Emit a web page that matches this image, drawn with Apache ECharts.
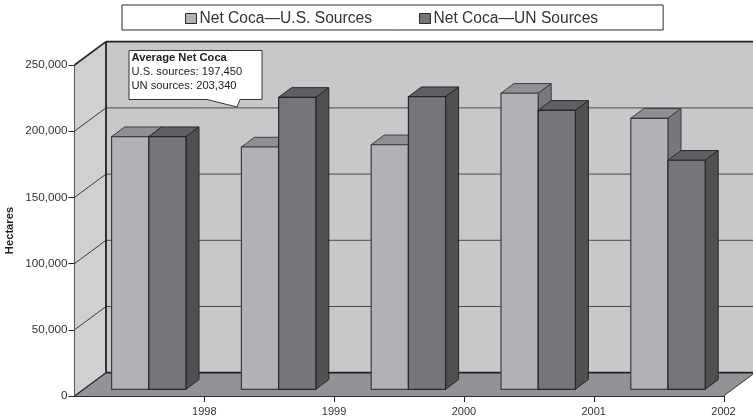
<!DOCTYPE html>
<html><head><meta charset="utf-8">
<style>html,body{margin:0;padding:0;background:#fff}#c{width:753px;height:419px}</style>
<script src="https://cdn.jsdelivr.net/npm/echarts@6/dist/echarts.min.js"></script>
</head><body><div id="c"></div>
<script>
const categories = [1998, 1999, 2000, 2001, 2002];
const usValues = [190800, 183000, 184700, 223600, 204700];
const unValues = [190800, 220500, 221000, 210700, 173000];
const yTicks = [0, 50000, 100000, 150000, 200000, 250000];
const seriesNames = ['Net Coca\u2014U.S. Sources', 'Net Coca\u2014UN Sources'];
const calloutLines = ['Average Net Coca', 'U.S. sources: 197,450', 'UN sources: 203,340'];

const FONT = '"Liberation Sans", Arial, sans-serif';
const WALL_DX = 31.5, WALL_DY = 23.3;
const BAR_DX0 = 9.4, BAR_DY0 = 6.7, BAR_DX = 13, BAR_DY = 9.7;
const BAR_W = 0.2866;
const TICK_LEN = 6;

const poly = (points, fill, stroke, lw) => ({
  type: 'polygon', shape: { points },
  style: { fill, stroke: stroke || null, lineWidth: lw || 0, lineJoin: 'round' }
});
const line = (a, b, stroke, lw) => ({
  type: 'line', shape: { x1: a[0], y1: a[1], x2: b[0], y2: b[1] },
  style: { stroke, lineWidth: lw }
});

function renderWalls(params, api) {
  const x0 = api.coord([1997, 0])[0], x1 = api.coord([2002, 0])[0];
  const y0 = api.coord([1997, 0])[1], yT = api.coord([1997, 250000])[1];
  const b = (x, y) => [x + WALL_DX, y - WALL_DY];
  const children = [
    poly([[x0, y0], [x0, yT], b(x0, yT), b(x0, y0)], '#cfd0d2'),
    poly([b(x0, y0), b(x0, yT), b(x1, yT), b(x1, y0)], '#c7c8ca'),
    poly([[x0, y0], [x1, y0], b(x1, y0), b(x0, y0)], '#929396')
  ];
  yTicks.forEach(t => {
    const y = api.coord([1997, t])[1];
    if (t === 0 || t === 250000) return;
    children.push(line([x0, y], b(x0, y), '#3a3a3a', 1));
    children.push(line(b(x0, y), b(x1, y), '#4a4a4c', 1));
  });
  children.push(line([x0, yT], b(x0, yT), '#222', 1.6));
  children.push(line(b(x0, yT), b(x1, yT), '#222', 1.8));
  children.push(line(b(x0, yT), b(x0, y0), '#222', 1.8));
  children.push(line(b(x0, y0), b(x1, y0), '#222', 1.8));
  children.push(line([x0, y0], b(x0, y0), '#222', 1.2));
  children.push(line([x1, y0], b(x1, y0), '#333', 1));
  categories.forEach(c => {
    const p = api.coord([c, 0]);
    const tx = Math.round(p[0]) + 0.5;
    children.push(line([tx, p[1]], [tx, p[1] + TICK_LEN], '#222', 1));
  });
  return { type: 'group', children };
}

function barRenderer(side, front, top, right, edge) {
  return function (params, api) {
    const cat = api.value(0), v = api.value(1);
    const xa = cat - 0.5 + (side === 0 ? -BAR_W : 0), xb = xa + BAR_W;
    const p0 = api.coord([xa, 0]), p1 = api.coord([xb, v]);
    const l = p0[0] + BAR_DX0, r = p1[0] + BAR_DX0;
    const bot = p0[1] - BAR_DY0, t = p1[1] - BAR_DY0;
    return { type: 'group', children: [
      poly([[l, t], [r, t], [r + BAR_DX, t - BAR_DY], [l + BAR_DX, t - BAR_DY]], top, edge, 1),
      poly([[r, t], [r + BAR_DX, t - BAR_DY], [r + BAR_DX, bot - BAR_DY], [r, bot]], right, edge, 1),
      poly([[l, t], [r, t], [r, bot], [l, bot]], front, edge, 1.2)
    ]};
  };
}

const chart = echarts.init(document.getElementById('c'), null, { renderer: 'canvas' });
chart.setOption({
  animation: false,
  backgroundColor: '#fff',
  textStyle: { fontFamily: FONT },
  grid: { left: 74.5, right: 29.5, top: 65, bottom: 23, containLabel: false, outerBoundsMode: 'none' },
  legend: {
    left: 122, top: 5,
    data: seriesNames,
    icon: 'rect',
    itemWidth: 11, itemHeight: 10, itemGap: 47,
    padding: [5, 65, 3, 63],
    backgroundColor: '#fff', borderColor: '#2b2b2b', borderWidth: 1,
    itemStyle: { borderColor: '#2b2b2b', borderWidth: 1 },
    textStyle: { fontFamily: FONT, fontSize: 15.6, color: '#333', lineHeight: 17, padding: [0, 0, 0, -2] },
    selectedMode: false
  },
  xAxis: {
    type: 'value', min: 1997, max: 2002, interval: 1, z: 5,
    splitLine: { show: false },
    axisLine: { show: true, onZero: false, lineStyle: { color: '#2e2e2e', width: 1.2 } },
    axisTick: { show: false },
    axisLabel: { customValues: categories, formatter: v => String(v), margin: 10, fontSize: 11, color: '#333', fontFamily: FONT }
  },
  yAxis: {
    type: 'value', min: 0, max: 250000, interval: 50000, z: 5,
    name: 'Hectares', nameLocation: 'middle', nameGap: 59.5, nameRotate: 90, nameMoveOverlap: false,
    nameTextStyle: { fontFamily: FONT, fontWeight: 'bold', fontSize: 11.2, color: '#222' },
    splitLine: { show: false },
    axisLine: { show: true, lineStyle: { color: '#555', width: 1 } },
    axisTick: { show: true, length: TICK_LEN, lineStyle: { color: '#222', width: 1 } },
    axisLabel: { margin: 7, fontSize: 11.7, color: '#333', fontFamily: FONT,
      formatter: v => v.toLocaleString('en-US') }
  },
  series: [
    { type: 'custom', name: 'walls', silent: true, z: 1, clip: false,
      data: [[1997, 0]], encode: { x: 0, y: 1 }, renderItem: renderWalls },
    { type: 'custom', name: seriesNames[0], silent: true, z: 2, clip: false,
      itemStyle: { color: '#b1b2b5' },
      data: categories.map((c, i) => [c, usValues[i]]), encode: { x: 0, y: 1 },
      renderItem: barRenderer(0, '#b1b2b5', '#8f9093', '#77787b', '#3c3c3e') },
    { type: 'custom', name: seriesNames[1], silent: true, z: 3, clip: false,
      itemStyle: { color: '#75767a' },
      data: categories.map((c, i) => [c, unValues[i]]), encode: { x: 0, y: 1 },
      renderItem: barRenderer(1, '#75767a', '#5f6063', '#4f5052', '#262626') }
  ],
  graphic: [
    { type: 'polygon', z: 20, silent: true,
      shape: { points: [[129, 50.5], [262, 50.5], [262, 99.5], [240, 99.5], [237, 107], [207, 99.5], [129, 99.5]] },
      style: { fill: '#fff', stroke: '#333', lineWidth: 1 } },
    { type: 'text', z: 21, silent: true, left: 131.5, top: 52.5,
      style: { text: calloutLines[0], font: 'bold 11.2px ' + FONT, fill: '#222' } },
    { type: 'text', z: 21, silent: true, left: 131.5, top: 66.5,
      style: { text: calloutLines[1], font: '11.2px ' + FONT, fill: '#222' } },
    { type: 'text', z: 21, silent: true, left: 131.5, top: 80.5,
      style: { text: calloutLines[2], font: '11.2px ' + FONT, fill: '#222' } }
  ]
});
</script></body></html>
